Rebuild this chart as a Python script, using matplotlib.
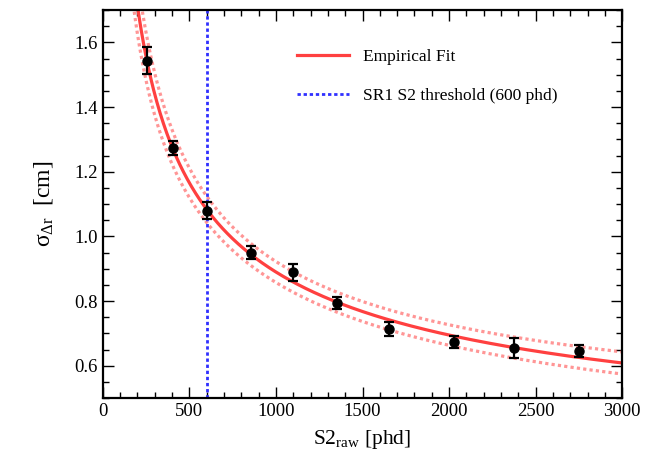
import numpy as np
import matplotlib
matplotlib.use('Agg')
import matplotlib.pyplot as plt
from matplotlib.ticker import MultipleLocator

plt.rcParams['font.family'] = ['Liberation Serif', 'DejaVu Serif']
plt.rcParams['mathtext.fontset'] = 'custom'
plt.rcParams['mathtext.rm'] = 'Liberation Serif'
plt.rcParams['mathtext.it'] = 'Liberation Serif:italic'

# measured resolution points
s2_raw = [254, 405, 601, 854, 1100, 1353, 1653, 2029, 2377, 2751]
sigma_dr = [1.543, 1.274, 1.080, 0.950, 0.889, 0.794, 0.714, 0.673, 0.655, 0.645]
sigma_err = [0.042, 0.022, 0.025, 0.020, 0.027, 0.018, 0.022, 0.019, 0.030, 0.019]

# empirical fit sigma = a + b / sqrt(S2), with parameter uncertainties
fit_a, fit_b = 0.224, 21.05
err_a, err_b, corr_ab = 0.057, 1.82, -0.84

threshold = 600
x_range = (0, 3000)
y_range = (0.5, 1.7)

fig = plt.figure(figsize=(6.55, 4.58), dpi=100)
ax = fig.add_axes([0.157, 0.131, 0.793, 0.847])

xf = np.linspace(150, 3000, 600)
u = 1. / np.sqrt(xf)
yf = fit_a + fit_b * u
dy = np.sqrt(err_a**2 + (err_b * u)**2 + 2 * corr_ab * err_a * err_b * u)

ax.plot(xf, yf + dy, color='#ff4040', alpha=0.55, lw=2.3, ls=(0, (1, 1)))
ax.plot(xf, yf - dy, color='#ff4040', alpha=0.55, lw=2.3, ls=(0, (1, 1)))
ax.plot(xf, yf, color='#ff4040', lw=2.3, label='Empirical Fit')
ax.axvline(threshold, color='#3030ff', lw=2, ls=(0, (1.2, 1)),
           label='SR1 S2 threshold (600 phd)')

ax.errorbar(s2_raw, sigma_dr, yerr=sigma_err, fmt='o', color='black',
            markersize=6.5, elinewidth=1.6, capsize=3.4, capthick=1.6, zorder=5)

ax.set_xlim(*x_range)
ax.set_ylim(*y_range)
ax.xaxis.set_major_locator(MultipleLocator(500))
ax.xaxis.set_minor_locator(MultipleLocator(100))
ax.yaxis.set_major_locator(MultipleLocator(0.2))
ax.yaxis.set_minor_locator(MultipleLocator(0.05))
ax.tick_params(which='both', direction='in', top=True, right=True, labelsize=13.5)
ax.tick_params(which='major', length=8, width=1)
ax.tick_params(which='minor', length=4, width=1)
for sp in ax.spines.values():
    sp.set_linewidth(1.6)

ax.set_xlabel(r'S2$_{\mathrm{raw}}$ [phd]', fontsize=15.5, labelpad=6)
ax.set_ylabel(u'\u03c3$_{\\Delta\\mathrm{r}}$  [cm]', fontsize=17, labelpad=14)

ax.legend(loc='upper left', bbox_to_anchor=(0.374, 0.90), frameon=False,
          borderpad=0, borderaxespad=0, handlelength=3.0, handletextpad=0.8,
          labelspacing=1.3, fontsize=12.5)

plt.savefig('out.png', dpi=100)
